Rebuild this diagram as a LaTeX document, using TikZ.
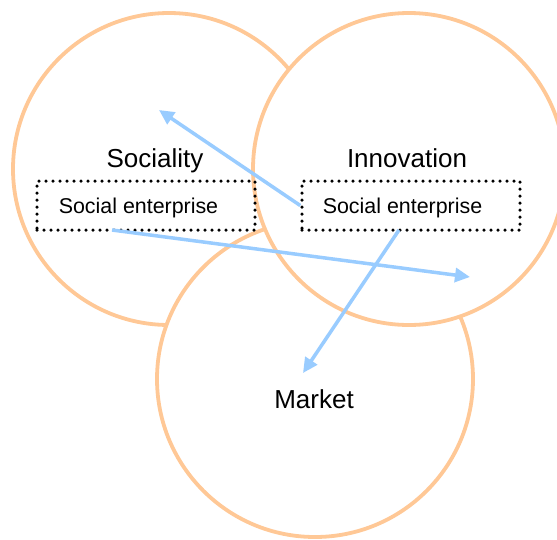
\documentclass[tikz,border=0pt]{standalone}
\usepackage{fontspec}
\setmainfont{Liberation Sans}
\usetikzlibrary{arrows.meta}
\definecolor{ringc}{RGB}{255,200,150}
\definecolor{arrc}{RGB}{153,204,255}
\begin{document}
\begin{tikzpicture}[x=1pt,y=-1pt,
  ring/.style={draw=ringc,fill=white,line width=3.8pt,circle,minimum size=312pt,inner sep=0pt},
  sebox/.style={draw=black,line width=3.5pt,dash pattern=on 0pt off 7pt,line cap=round,minimum width=218pt,minimum height=49pt,inner sep=0pt},
  setext/.style={font=\fontsize{21.4}{24}\selectfont,inner sep=0pt,anchor=base},
  lbl/.style={font=\fontsize{26}{30}\selectfont,inner sep=0pt,anchor=base},
  arr/.style={draw=arrc,line width=3.5pt,-{Triangle[length=15pt,width=14pt]}}]
\useasboundingbox (0,0) rectangle (557,539);
\node[ring] (cL) at (169,169) {};
\node[ring,minimum size=316pt] (cM) at (315,379) {};
\node[ring] (cR) at (409,169) {};
\node[lbl] (sociality) at (155,167) {Sociality};
\node[lbl] (innovation) at (407,167) {Innovation};
\node[lbl] (market) at (314,408) {Market};
\node[sebox] (boxL) at (146,205.5) {};
\node[sebox] (boxR) at (411,205.5) {};
\node[setext] (txtL) at (138.5,213) {Social enterprise};
\node[setext] (txtR) at (402.5,213) {Social enterprise};
\coordinate (sL) at (112,230);
\coordinate (sR) at (399,230);
\coordinate (tA) at (159,110);
\coordinate (tB) at (470,277);
\coordinate (tC) at (303,373);
\draw[arr] (boxR.west) -- (tA);
\draw[arr] (sL) -- (tB);
\draw[arr] (sR) -- (tC);
\end{tikzpicture}
\end{document}
